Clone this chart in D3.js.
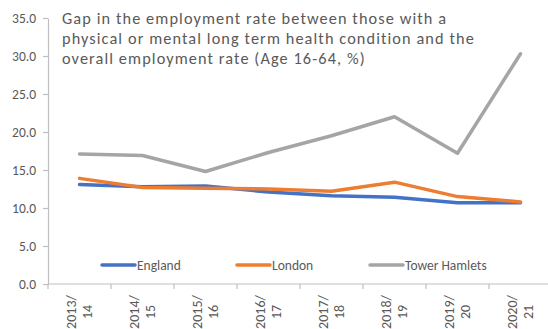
<!DOCTYPE html>
<html>
<head>
<meta charset="utf-8">
<script src="https://cdn.jsdelivr.net/npm/d3@7"></script>
<style>
  html, body { margin: 0; padding: 0; background: #fff; }
  svg { display: block; }
  text { font-family: Carlito, Lato, "Open Sans", sans-serif; fill: #595959; }
</style>
</head>
<body>
<svg id="chart" width="548" height="329"></svg>
<script>
const categories = ["2013/14", "2014/15", "2015/16", "2016/17", "2017/18", "2018/19", "2019/20", "2020/21"];
const england = [13.1, 12.8, 12.9, 12.1, 11.6, 11.4, 10.7, 10.7];
const london = [13.9, 12.7, 12.6, 12.5, 12.2, 13.4, 11.5, 10.8];
const towerHamlets = [17.1, 16.9, 14.8, 17.3, 19.5, 22.0, 17.2, 30.3];
const yTicks = [0, 5, 10, 15, 20, 25, 30, 35];
const seriesNames = ["England", "London", "Tower Hamlets"];
const seriesColors = ["#4472C4", "#ED7D31", "#A5A5A5"];
const titleLines = [
  "Gap in the employment rate between those with a",
  "physical or mental long term health condition and the",
  "overall employment rate (Age 16-64, %)"
];

const svg = d3.select("#chart");

const x = d3.scaleBand().domain(categories).range([48, 552]).paddingInner(0).paddingOuter(0);
const y = d3.scaleLinear().domain([0, 35]).range([284, 18]);

const axisColor = "#BFBFBF";

// Y axis
const yAxis = d3.axisLeft(y).tickValues(yTicks).tickFormat(d3.format(".1f")).tickSize(5).tickSizeOuter(0);
const gy = svg.append("g").attr("transform", "translate(48,0)").call(yAxis);
gy.select(".domain").attr("stroke", axisColor).attr("stroke-width", 1.2);
gy.selectAll(".tick line").attr("stroke", axisColor).attr("stroke-width", 1.2);
gy.selectAll(".tick text").attr("x", -12).attr("font-size", 13.5).attr("fill", "#595959")
  .style("font-family", "Carlito, Lato, 'Open Sans', sans-serif");

// X axis
const gx = svg.append("g").attr("transform", "translate(0,284)");
gx.append("line").attr("x1", 48).attr("x2", 552).attr("stroke", axisColor).attr("stroke-width", 1.2);
const bounds = categories.map(c => x(c)).concat([x.range()[1]]);
gx.selectAll("line.tk").data(bounds).join("line").attr("class", "tk")
  .attr("x1", d => d).attr("x2", d => d).attr("y1", 0).attr("y2", 5)
  .attr("stroke", axisColor).attr("stroke-width", 1.2);

const xl = svg.append("g").selectAll("g").data(categories).join("g")
  .attr("transform", d => `translate(${x(d) + x.bandwidth() / 2},312) rotate(-90)`);
xl.each(function(d) {
  const parts = d.split("/");
  const g = d3.select(this);
  g.append("text").attr("text-anchor", "middle").attr("dominant-baseline", "central")
    .attr("y", -8).attr("font-size", 14).text(parts[0] + "/");
  g.append("text").attr("text-anchor", "middle").attr("dominant-baseline", "central")
    .attr("y", 8).attr("font-size", 14).text(parts[1]);
});

// Lines
const data = [england, london, towerHamlets];
const line = d3.line().x((d, i) => x(categories[i]) + x.bandwidth() / 2).y(d => y(d));
svg.append("g").selectAll("path").data(data).join("path")
  .attr("d", d => line(d)).attr("fill", "none")
  .attr("stroke", (d, i) => seriesColors[i]).attr("stroke-width", 3.5)
  .attr("stroke-linejoin", "round").attr("stroke-linecap", "round");

// Legend
const legendX = [102, 237, 370];
const lg = svg.append("g").selectAll("g").data(seriesNames).join("g")
  .attr("transform", (d, i) => `translate(${legendX[i]},265)`);
lg.append("line").attr("x1", 0).attr("x2", 33).attr("y1", 0).attr("y2", 0)
  .attr("stroke", (d, i) => seriesColors[i]).attr("stroke-width", 3.5).attr("stroke-linecap", "round");
lg.append("text").attr("x", 35).attr("dominant-baseline", "central").attr("font-size", 13.5).text(d => d);

// Title
const tt = svg.append("g").selectAll("text").data(titleLines).join("text")
  .attr("x", 62).attr("y", (d, i) => 24 + i * 20).attr("font-size", 16.3).text(d => d);
// fit first line to reference width via letter spacing
const n0 = tt.nodes()[0];
const w0 = n0.getComputedTextLength();
const ls = (384 - w0) / (titleLines[0].length - 1);
tt.attr("letter-spacing", ls.toFixed(3));
</script>
</body>
</html>
